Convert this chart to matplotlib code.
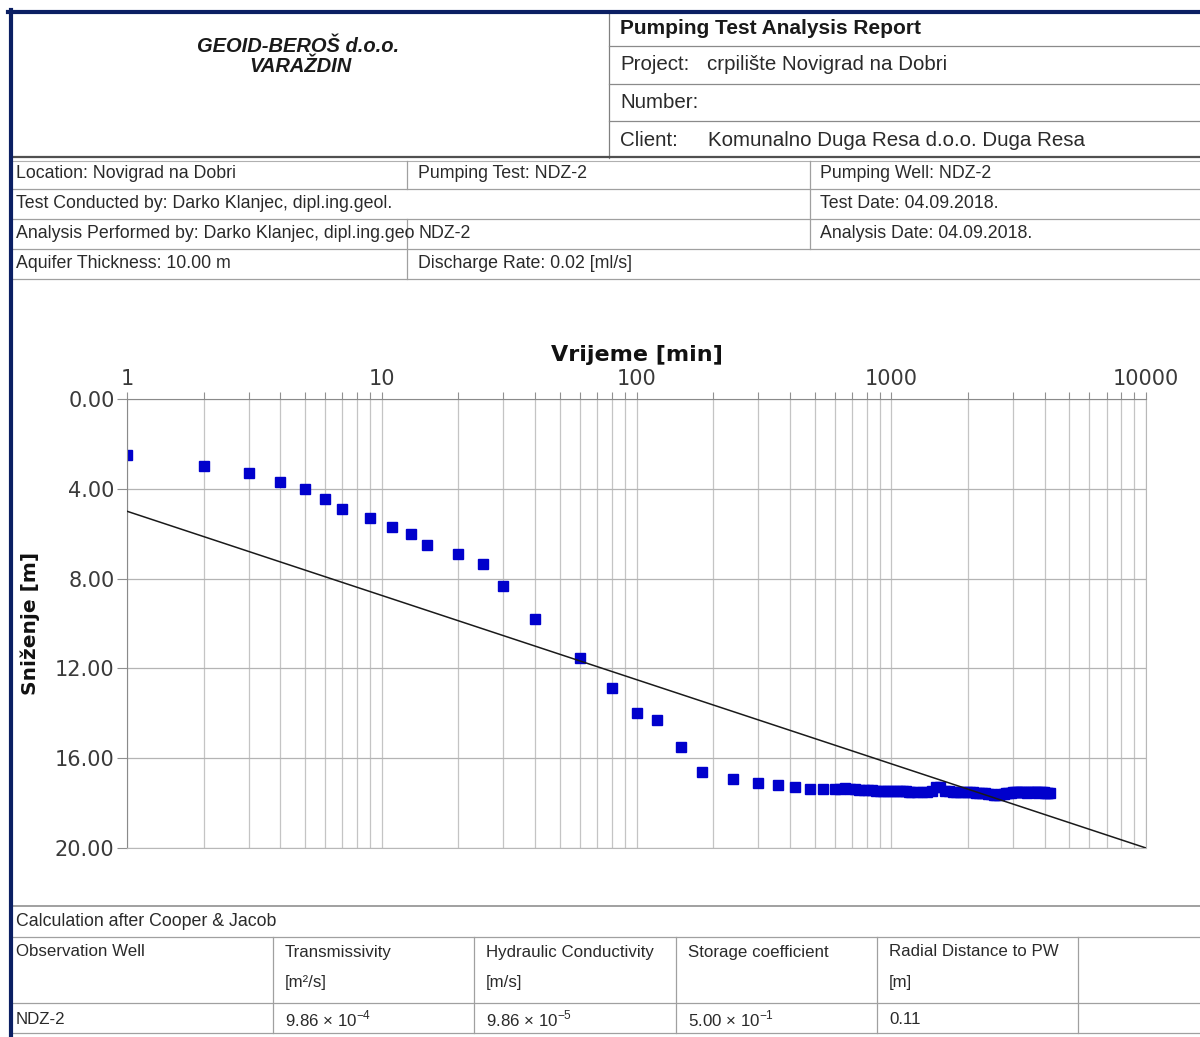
import numpy as np
import matplotlib.pyplot as plt
from matplotlib.lines import Line2D
from matplotlib.ticker import LogLocator, NullFormatter

plt.rcParams['font.family'] = 'DejaVu Sans'
plt.rcParams['mathtext.fontset'] = 'custom'
plt.rcParams['mathtext.rm'] = 'Liberation Sans'

W, H = 1200, 1037

# --- measured drawdown, NDZ-2 (time in min, drawdown in m) ---
time_min = [1, 2, 3, 4, 5, 6, 7, 9, 11, 13, 15, 20, 25, 30, 40, 60, 80, 100, 120, 150,
            180, 240, 300, 360, 420, 480, 540, 600,
            630, 660, 690, 720, 750, 780, 810, 840, 870, 900, 930, 960, 990, 1020, 1050,
            1080, 1110, 1140, 1170, 1200,
            1260, 1320, 1380, 1440, 1500, 1560, 1620, 1680, 1740, 1800, 1860, 1920, 1980,
            2040, 2100, 2160, 2220, 2280, 2340, 2400, 2460, 2520, 2580, 2640, 2700, 2760,
            2820, 2880, 2940, 3000, 3060, 3120, 3180, 3240, 3300, 3360, 3420, 3480, 3540,
            3600, 3660, 3720, 3780, 3840, 3900, 3960, 4020, 4080, 4140, 4200]
drawdown_m = [2.51, 2.98, 3.31, 3.71, 4.01, 4.46, 4.88, 5.32, 5.70, 6.00, 6.50, 6.92, 7.34,
              8.32, 9.79, 11.53, 12.89, 13.97, 14.32, 15.50,
              16.60, 16.93, 17.11, 17.18, 17.30, 17.36, 17.36, 17.37,
              17.35, 17.34, 17.36, 17.38, 17.40, 17.41, 17.42, 17.43, 17.44, 17.45, 17.45,
              17.46, 17.46, 17.47, 17.47, 17.48, 17.48, 17.48, 17.49, 17.49,
              17.49, 17.50, 17.50, 17.48, 17.30, 17.27, 17.45, 17.48, 17.49, 17.50, 17.50,
              17.51, 17.50, 17.52, 17.52, 17.53, 17.54, 17.55, 17.56, 17.58, 17.60, 17.62,
              17.63, 17.62, 17.60, 17.58, 17.56, 17.55, 17.53, 17.52, 17.52, 17.51, 17.50,
              17.50, 17.51, 17.52, 17.53, 17.52, 17.51, 17.50, 17.51, 17.52, 17.53, 17.52,
              17.51, 17.52, 17.53, 17.54, 17.54, 17.53]

# Cooper & Jacob straight line, read at both ends of the time axis
fit_time = [1, 10000]
fit_drawdown = [5.0, 20.0]

x_ticks = [1, 10, 100, 1000, 10000]
y_ticks = [0, 4, 8, 12, 16, 20]

# report tables
info_rows = [
    ['Location: Novigrad na Dobri', 'Pumping Test: NDZ-2', 'Pumping Well: NDZ-2'],
    ['Test Conducted by: Darko Klanjec, dipl.ing.geol.', '', 'Test Date: 04.09.2018.'],
    ['Analysis Performed by: Darko Klanjec, dipl.ing.geo', 'NDZ-2', 'Analysis Date: 04.09.2018.'],
    ['Aquifer Thickness: 10.00 m', 'Discharge Rate: 0.02 [ml/s]', ''],
]
result_head = ['Observation Well', 'Transmissivity', 'Hydraulic Conductivity',
               'Storage coefficient', 'Radial Distance to PW', '']
result_units = ['', '[m²/s]', '[m/s]', '', '[m]', '']
result_vals = ['NDZ-2', r'9.86 × 10$^{-4}$', r'9.86 × 10$^{-5}$', r'5.00 × 10$^{-1}$', '0.11', '']

fig = plt.figure(figsize=(W / 100, H / 100), dpi=100)


def fx(x):
    return x / W


def fy(y):
    return 1 - y / H


def hline(y, x0, x1, color='#a0a0a0', lw=0.9):
    fig.add_artist(Line2D([fx(x0), fx(x1)], [fy(y), fy(y)], color=color, lw=lw))


def vline(x, y0, y1, color='#a0a0a0', lw=0.9):
    fig.add_artist(Line2D([fx(x), fx(x)], [fy(y0), fy(y1)], color=color, lw=lw))


def put(x, y, s, size=12, **kw):
    kw.setdefault('color', '#2a2a2a')
    kw.setdefault('ha', 'left')
    fig.text(fx(x), fy(y), s, va='center', fontsize=size, family='Liberation Sans', **kw)


# ---- header ----
put(298, 46, 'GEOID-BEROŠ d.o.o.', size=14.5, weight='bold', style='italic', ha='center', color='#1a1a1a')
put(300, 66, 'VARAŽDIN', size=14.5, weight='bold', style='italic', ha='center', color='#1a1a1a')
vline(609, 13, 158, color='#808080')
for y in [46, 84, 121]:
    hline(y, 609, W, color='#8a8a8a')
put(620, 28, 'Pumping Test Analysis Report', size=15, weight='bold', color='#1a1a1a')
put(620, 65, 'Project:', size=14.8)
put(707, 65, 'crpilište Novigrad na Dobri', size=14.8)
put(620, 103, 'Number:', size=14.8)
put(620, 140, 'Client:', size=14.8)
put(708, 140, 'Komunalno Duga Resa d.o.o. Duga Resa', size=14.8)
hline(157, 13, W, color='#505050', lw=1.6)
hline(161, 13, W, color='#b0b0b0', lw=0.8)

# ---- info rows ----
row_y = [174, 204, 234, 264]
col_x = [16, 418, 820]
for r, row in enumerate(info_rows):
    for c, txt in enumerate(row):
        if txt:
            put(col_x[c], row_y[r], txt, size=12.8)
for y in [189, 219, 249, 279]:
    hline(y, 13, W, color='#a0a0a0')
vline(407, 161, 189)
vline(407, 219, 279)
vline(810, 161, 249)

# ---- result table ----
hline(906, 13, W, color='#a0a0a0', lw=1.4)
hline(937, 13, W)
hline(1003, 13, W)
hline(1033, 13, W)
put(16, 922, 'Calculation after Cooper & Jacob', size=12.8)
tab_x = [13, 273, 474, 676, 877, 1078]
for i, x in enumerate(tab_x):
    if i > 0:
        vline(x, 937, 1033)
    put(x + 3 if i == 0 else x + 12, 952, result_head[i], size=12.2)
    put(x + 12, 983, result_units[i], size=12.2)
    put(x + 3 if i == 0 else x + 12, 1019, result_vals[i], size=12.2)

# ---- frame ----
hline(11.5, 8, W, color='#0b1f63', lw=3.0)
vline(10.5, 10, H, color='#0b1f63', lw=3.0)

# ---- chart ----
ax = fig.add_axes([fx(127), fy(848), (1146 - 127) / W, (848 - 399) / H])
ax.plot(time_min, drawdown_m, ls='none', marker='s', ms=6.5, color='#0000cc', zorder=2)
ax.plot(fit_time, fit_drawdown, color='#1a1a1a', lw=1.1, zorder=3)

ax.set_xscale('log')
ax.set_xlim(1, 10000)
ax.set_ylim(20, 0)
ax.set_xticks(x_ticks)
ax.set_xticklabels([str(t) for t in x_ticks])
ax.xaxis.set_minor_locator(LogLocator(base=10, subs=range(2, 10)))
ax.xaxis.set_minor_formatter(NullFormatter())
ax.set_yticks(y_ticks)
ax.set_yticklabels([f'{v:.2f}' for v in y_ticks])

ax.tick_params(axis='x', which='both', top=True, bottom=False, labeltop=True, labelbottom=False,
               direction='out', length=5, width=0.8, color='#909090', pad=2)
ax.tick_params(axis='x', which='major', labelsize=15, labelcolor='#3a3a3a')
ax.tick_params(axis='y', which='major', direction='out', length=7, width=0.8, color='#909090',
               labelsize=15, labelcolor='#3a3a3a', pad=2)

ax.grid(True, which='both', axis='x', color='#c4c4c4', lw=0.9)
ax.grid(True, which='major', axis='y', color='#b4b4b4', lw=0.9)
ax.set_axisbelow(True)
for side in ['top', 'left']:
    ax.spines[side].set_color('#8a8a8a')
for side in ['right', 'bottom']:
    ax.spines[side].set_color('#b8b8b8')

ax.set_xlabel('Vrijeme [min]', fontsize=16, fontweight='bold', color='#111111')
ax.xaxis.set_label_position('top')
ax.xaxis.set_label_coords(0.5, 1 + (399 - 361) / 449)
ax.set_ylabel('Sniženje [m]', fontsize=14.5, fontweight='bold', color='#111111')
ax.yaxis.set_label_coords((40 - 127) / 1019, 0.5)

fig.savefig('out.png', dpi=100)
